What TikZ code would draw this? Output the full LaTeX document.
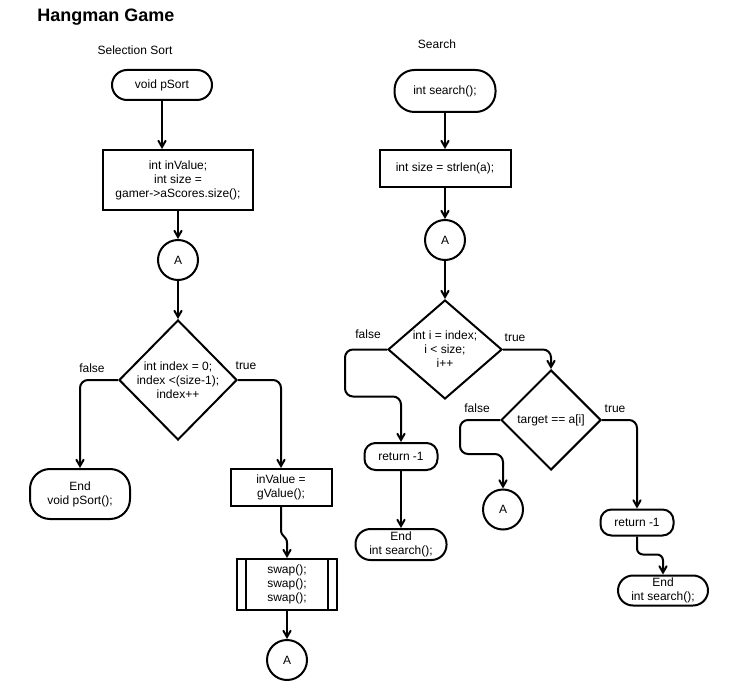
\documentclass[tikz,border=0pt]{standalone}
\usepackage{fontspec}
\setmainfont{Liberation Sans}
\usetikzlibrary{arrows,shapes.geometric}

\begin{document}
\begin{tikzpicture}[->,>=angle 60,x=1pt,y=-1pt,line width=2pt,
                    font=\fontsize{12}{14}\selectfont]
  \tikzstyle{every node}=[align=center,inner sep=0pt]
  \tikzstyle{term}=[draw,rounded corners=15pt,minimum width=100pt,minimum height=30pt]
  \tikzstyle{proc}=[draw,rectangle]
  \tikzstyle{ret}=[draw,rounded corners=11pt,minimum width=73pt,minimum height=27pt]
  \tikzstyle{dec}=[draw,diamond]
  \tikzstyle{conn}=[draw,circle,minimum size=40pt]

  \useasboundingbox (0,0) rectangle (733,700);

  \node[font=\bfseries\fontsize{18}{20}\selectfont] (title) at (106,17) {Hangman Game};

  % selection sort
  \node (sorthead) at (135,50) {Selection Sort};
  \node[term] (ps) at (162,85) {void pSort};
  \node[proc,minimum width=150pt,minimum height=60pt] (pinit) at (178,180)
       {int inValue;\\int size =\\gamer->aScores.size();};
  \node[conn] (ca1) at (178,260) {A};
  \node[dec,minimum width=118pt,minimum height=120pt,
        label=center:{int index = 0;\\index <(size-1);\\index++}] (dsort) at (178,380) {};
  \node[term,rounded corners=20pt,minimum height=50pt] (pend) at (80,494) {End\\void pSort();};
  \node[proc,minimum width=101pt,minimum height=37pt] (inval) at (281,487.5) {inValue =\\gValue();};
  \node[proc,minimum width=100pt,minimum height=51pt] (swap) at (287,584.5) {swap();\\swap();\\swap();};
  \draw[-] ([xshift=10pt]swap.north west) -- ([xshift=10pt]swap.south west);
  \draw[-] ([xshift=-10pt]swap.north east) -- ([xshift=-10pt]swap.south east);
  \node[conn] (ca2) at (287,660) {A};
  \node (sfalse) at (92,368) {false};
  \node (strue) at (246,366) {true};

  \draw (ps.south) -- (ps.south |- pinit.north);
  \draw (pinit) -- (ca1);
  \draw (ca1) -- (dsort);
  \draw[rounded corners=8pt] (dsort.west) -| (pend.north);
  \draw[rounded corners=8pt] (dsort.east) -| (inval.north);
  \draw (inval.south) -- ++(0,23) .. controls +(0,7) and +(0,-7) .. ++(6,13) -- (swap.north);
  \draw (swap) -- (ca2);

  % search
  \node (searchhead) at (437,44) {Search};
  \node[term,rounded corners=20pt,minimum width=101pt,minimum height=42pt] (ss) at (445,91) {int search();};
  \node[proc,minimum width=131pt,minimum height=37pt] (ssize) at (445,168.5) {int size = strlen(a);};
  \node[conn] (ca3) at (445,240) {A};
  \node[dec,minimum width=114pt,minimum height=99pt,
        label=center:{int i = index;\\i < size;\\i++}] (d1) at (445,349.5) {};
  \node[ret] (ret1) at (401,456.5) {return -1};
  \node[term,minimum width=91pt,minimum height=31pt] (end1) at (401,544.5) {End\\int search();};
  \node[dec,minimum width=100pt,minimum height=100pt,
        label=center:{target == a[i]}] (d2) at (551,420) {};
  \node[conn] (ca4) at (503,509.5) {A};
  \node[ret,minimum height=26pt] (ret2) at (637,522.5) {return -1};
  \node[term,minimum width=90pt,minimum height=30pt] (end2) at (663,590.5) {End\\int search();};
  \node (f1) at (368,334) {false};
  \node (t1) at (515,338) {true};
  \node (f2) at (477,408) {false};
  \node (t2) at (615,409) {true};

  \draw (ss) -- (ssize);
  \draw (ssize) -- (ca3);
  \draw (ca3) -- (d1);
  \draw[rounded corners=8pt] (d1.west) -- ++(-42,0) -- ++(0,47) -| (ret1.north);
  \draw (ret1) -- (end1);
  \draw[rounded corners=8pt] (d1.east) -| (d2.north);
  \draw[rounded corners=8pt] (d2.west) -- ++(-40,0) -- ++(0,34) -| (ca4.north);
  \draw[rounded corners=8pt] (d2.east) -| (ret2.north);
  \draw[rounded corners=6pt] (ret2.south) -- ++(0,18) -| (end2.north);
\end{tikzpicture}
\end{document}
